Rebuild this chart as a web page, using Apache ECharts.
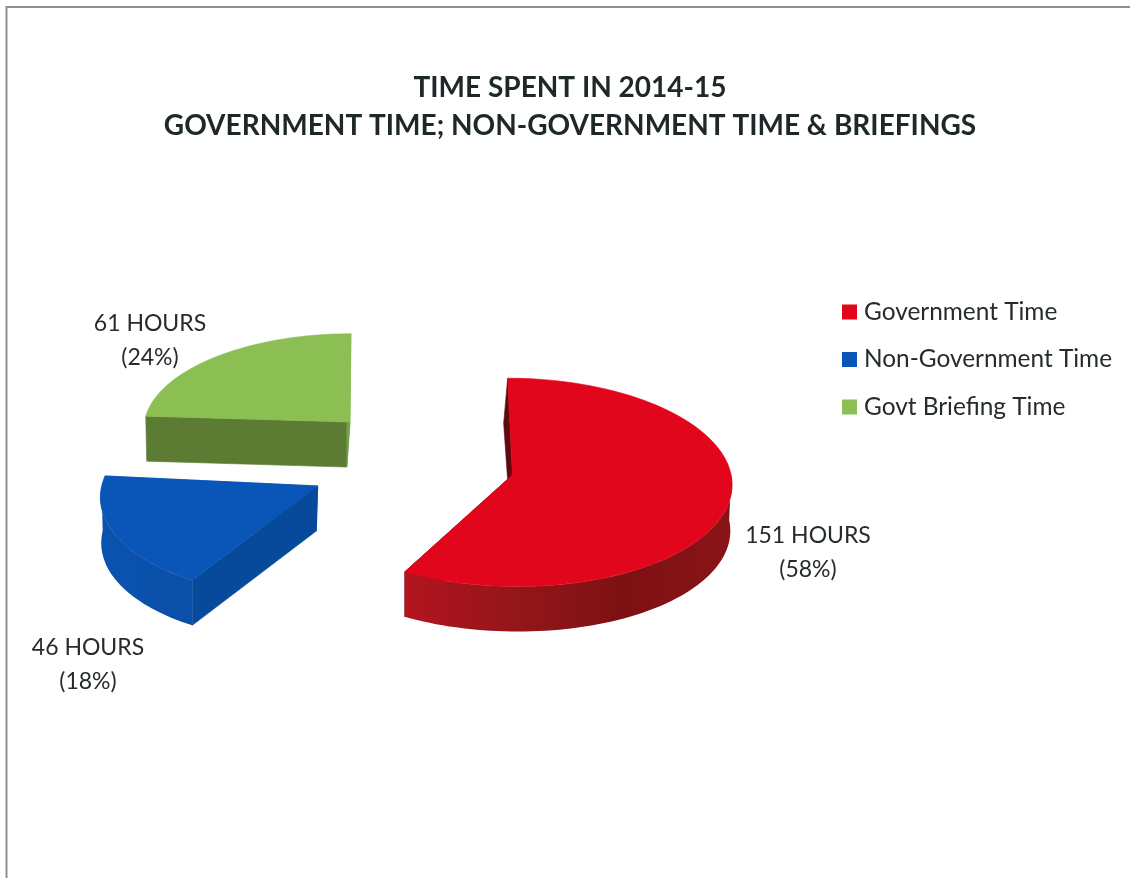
<!DOCTYPE html>
<html>
<head>
<meta charset="utf-8">
<style>html,body{margin:0;padding:0;background:#fff}#chart{width:1130px;height:878px}</style>
<script src="https://cdn.jsdelivr.net/npm/echarts@6/dist/echarts.min.js"></script>
</head>
<body>
<div id="chart"></div>
<script>
// Time spent per category in 2014-15: hours and share of the total
const categories = ['Government Time', 'Non-Government Time', 'Govt Briefing Time'];
const hours = [151, 46, 61];
const shares = [58, 18, 24];
const titleLines = ['TIME SPENT IN 2014-15', 'GOVERNMENT TIME; NON-GOVERNMENT TIME & BRIEFINGS'];

// Colours for each slice: top face, curved wall stops, flat walls at the start and end angle
const palette = [
  { top: '#e2061c', curve: ['#b3141f', '#941619', '#7d1114', '#8a1418'], wallStart: '#5e0a0e', wallEnd: '#6e0c10' },
  { top: '#0a56b8', curve: ['#0a52ad', '#0a52ad', '#0a50a8', '#0a50a8'], wallStart: '#074a9b', wallEnd: '#074a9b' },
  { top: '#8bbe53', curve: ['#5c7c34', '#5c7c34', '#5c7c34', '#5c7c34'], wallStart: '#5c7c34', wallEnd: '#74a544' }
];

// Value label centres
const labelAnchors = [[808, 553], [88, 665], [150, 341]];

// Per-slice camera tweaks: screen shift, vanishing x, rim scale, rim turn in degrees
const sliceNudge = [[1, -1.5], [-3, -2], [7.4, -8.3]];
const sliceVanish = [440, 440, 358];
const sliceScale = [1, 0.98, 0.97];
const sliceTurn = [0, 2, 0];

// Oblique pie projection
const view = { pieX: 412, pieY: 464.5, radius: 217, squash: 0.47, perspective: 0.07, explode: 0.47, depth: 45 };

const totalShare = shares.reduce((a, b) => a + b, 0);

function project(gx, gy, index) {
  const p = 1 / (1 - view.perspective * gy);
  const vanish = sliceVanish[index];
  return [
    vanish + (view.pieX - vanish + gx * view.radius) * p + sliceNudge[index][0],
    view.pieY + gy * view.radius * view.squash * p + sliceNudge[index][1]
  ];
}

// The lower rim of a wall: straight down, with a slight sideways drift towards the back
function lower(pt) {
  const t = Math.min(1, Math.max(0, (pt[1] - 380) / 190));
  const drift = -4 + 5.2 * Math.max(0, 350 - pt[0]) / 205;
  return [pt[0] + drift * (1 - t), pt[1] + view.depth];
}

function sliceAngles(index) {
  let before = 0;
  for (let i = 0; i < index; i++) before += shares[i];
  return [before / totalShare * Math.PI * 2, (before + shares[index]) / totalShare * Math.PI * 2];
}

function face(points, fill) {
  return { type: 'polygon', shape: { points }, style: { fill, stroke: fill, lineWidth: 0.6 } };
}

function renderSlice(index) {
  return function () {
    const [a0, a1] = sliceAngles(index);
    const mid = (a0 + a1) / 2;
    const ox = Math.sin(mid) * view.explode;
    const oy = -Math.cos(mid) * view.explode;
    const apex = project(ox, oy, index);
    const turn = sliceTurn[index] * Math.PI / 180;
    const scale = sliceScale[index];
    const arc = (from, to) => {
      const pts = [];
      const steps = Math.max(8, Math.ceil((to - from) / 0.03));
      for (let i = 0; i <= steps; i++) {
        const a = from + (to - from) * i / steps;
        const pt = project(ox + Math.sin(a), oy - Math.cos(a), index);
        pts.push([apex[0] + (pt[0] - apex[0]) * scale, apex[1] + (pt[1] - apex[1]) * scale]);
      }
      return pts;
    };
    const from = a0 + turn;
    const to = a1 + turn;
    const rim = arc(from, to);
    const first = rim[0];
    const last = rim[rim.length - 1];
    const colors = palette[index];
    const children = [
      face([apex, first, lower(first), lower(apex)], colors.wallStart),
      face([apex, last, lower(last), lower(apex)], colors.wallEnd)
    ];
    // Only the part of the curved wall that faces the viewer is drawn
    const frontFrom = Math.max(from, Math.PI / 2);
    const frontTo = Math.min(to, Math.PI * 1.5);
    if (frontTo > frontFrom) {
      const front = arc(frontFrom, frontTo);
      const curveFill = {
        type: 'linear', x: 0, y: 0, x2: 1, y2: 0,
        colorStops: colors.curve.map((c, i) => ({ offset: i / (colors.curve.length - 1), color: c }))
      };
      children.push({
        type: 'polygon',
        shape: { points: front.concat(front.map(lower).reverse()) },
        style: { fill: curveFill }
      });
    }
    children.push(face([apex].concat(rim), colors.top));
    children.push({
      type: 'text',
      style: {
        x: labelAnchors[index][0], y: labelAnchors[index][1],
        text: hours[index] + ' HOURS\n(' + shares[index] + '%)',
        align: 'center', verticalAlign: 'middle',
        font: '23px Lato', lineHeight: 34, fill: '#262b2b'
      }
    });
    return { type: 'group', children };
  };
}

const chart = echarts.init(document.getElementById('chart'), null, { renderer: 'canvas' });
chart.setOption({
  animation: false,
  backgroundColor: '#ffffff',
  title: {
    text: titleLines.join('\n'),
    left: 565, top: 64, textAlign: 'center',
    textStyle: { fontFamily: 'Lato', fontWeight: 'bold', fontSize: 28, lineHeight: 38, color: '#1e2828' }
  },
  legend: {
    orient: 'vertical', left: 837, top: 294.5,
    itemWidth: 15, itemHeight: 15, itemGap: 22.5, icon: 'rect',
    data: categories,
    textStyle: { fontFamily: 'Lato', fontSize: 24.4, lineHeight: 25, color: '#262b2b', padding: [0, 0, 0, 2] }
  },
  graphic: [
    { type: 'line', silent: true, shape: { x1: 6, y1: 7, x2: 1130, y2: 7 }, style: { stroke: '#8f8f8f', lineWidth: 2 } },
    { type: 'line', silent: true, shape: { x1: 6.5, y1: 6, x2: 6.5, y2: 878 }, style: { stroke: '#8f8f8f', lineWidth: 2 } }
  ],
  series: categories.map((name, i) => ({
    type: 'custom',
    name,
    coordinateSystem: 'none',
    itemStyle: { color: palette[i].top },
    renderItem: renderSlice(i),
    data: [hours[i]]
  }))
});
</script>
</body>
</html>
